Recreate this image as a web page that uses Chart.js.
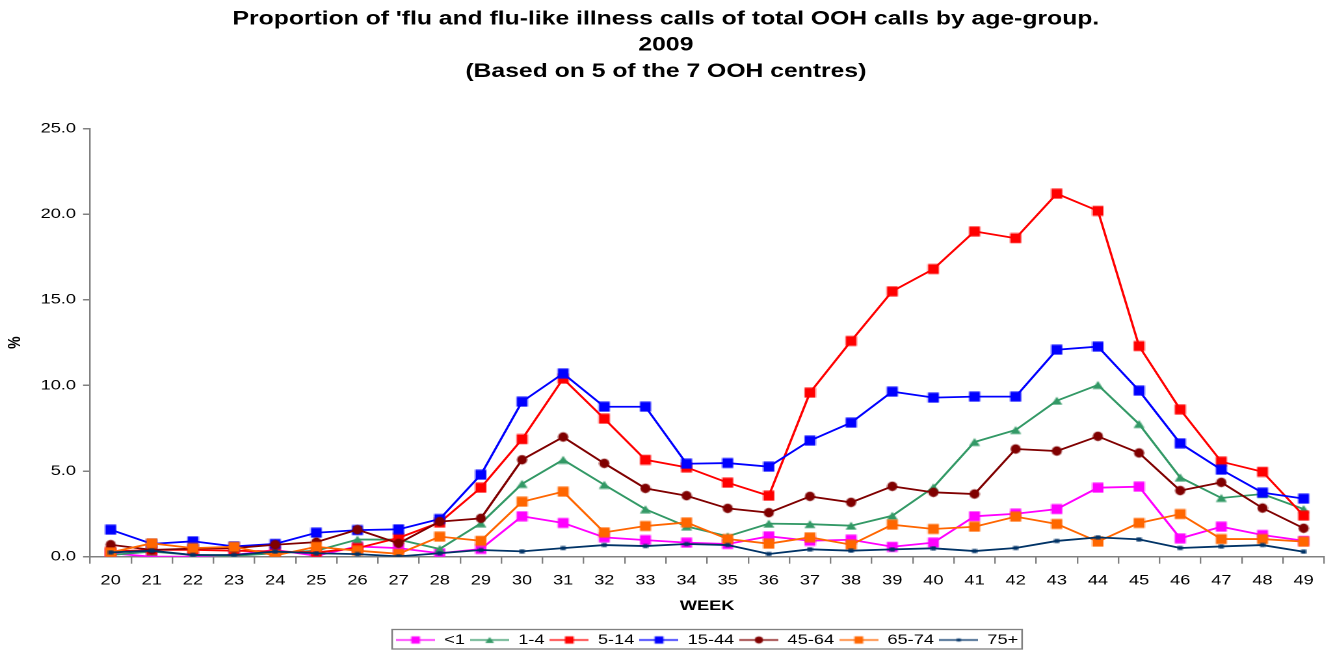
<!DOCTYPE html>
<html>
<head>
<meta charset="utf-8">
<script src="https://cdn.jsdelivr.net/npm/chart.js@4/dist/chart.umd.min.js"></script>
<style>
  html, body { margin: 0; padding: 0; background: #fff; overflow: hidden; }
  /* the original picture is stretched sideways, so draw narrow and widen it */
  #wrap { width: 1025px; height: 650px; position: relative; transform: scaleX(1.3005); transform-origin: 0 0; }
</style>
</head>
<body>
<div id="wrap"><canvas id="c"></canvas></div>
<script>
const weeks = ['20', '21', '22', '23', '24', '25', '26', '27', '28', '29',
  '30', '31', '32', '33', '34', '35', '36', '37', '38', '39',
  '40', '41', '42', '43', '44', '45', '46', '47', '48', '49'];

const under1 = [0.2, 0.0, 0.0, 0.1, 0.4, 0.05, 0.6, 0.5, 0.2, 0.45,
  2.36, 1.97, 1.13, 0.97, 0.82, 0.74, 1.19, 0.93, 0.99, 0.58,
  0.82, 2.36, 2.51, 2.78, 4.03, 4.09, 1.07, 1.75, 1.27, 0.93];
const age1to4 = [0.1, 0.3, 0.1, 0.05, 0.2, 0.35, 1.0, 1.0, 0.45, 1.95,
  4.25, 5.66, 4.2, 2.77, 1.77, 1.19, 1.93, 1.9, 1.81, 2.39,
  4.05, 6.7, 7.4, 9.11, 10.03, 7.75, 4.63, 3.43, 3.66, 2.78];
const age5to14 = [0.3, 0.4, 0.4, 0.35, 0.3, 0.25, 0.5, 1.1, 2.0, 4.03,
  6.86, 10.4, 8.06, 5.66, 5.22, 4.32, 3.56, 9.58, 12.6, 15.5,
  16.8, 19.0, 18.6, 21.2, 20.2, 12.3, 8.6, 5.55, 4.96, 2.4];
const age15to44 = [1.58, 0.75, 0.9, 0.6, 0.75, 1.4, 1.55, 1.6, 2.2, 4.79,
  9.05, 10.7, 8.76, 8.76, 5.43, 5.47, 5.26, 6.78, 7.83, 9.64,
  9.29, 9.35, 9.35, 12.09, 12.27, 9.7, 6.62, 5.08, 3.74, 3.39];
const age45to64 = [0.7, 0.4, 0.47, 0.5, 0.7, 0.85, 1.58, 0.78, 2.05, 2.24,
  5.66, 6.99, 5.45, 3.99, 3.56, 2.82, 2.57, 3.52, 3.17, 4.11,
  3.76, 3.66, 6.29, 6.17, 7.03, 6.06, 3.86, 4.34, 2.84, 1.66];
const age65to74 = [0.25, 0.78, 0.5, 0.58, 0.07, 0.58, 0.35, 0.17, 1.17, 0.93,
  3.21, 3.8, 1.42, 1.79, 2.0, 1.03, 0.76, 1.13, 0.7, 1.87,
  1.62, 1.75, 2.34, 1.91, 0.88, 1.97, 2.49, 1.03, 1.03, 0.88];
const age75plus = [0.25, 0.35, 0.1, 0.1, 0.3, 0.2, 0.15, 0.02, 0.2, 0.39,
  0.31, 0.5, 0.68, 0.62, 0.74, 0.68, 0.16, 0.43, 0.35, 0.43,
  0.49, 0.33, 0.51, 0.92, 1.13, 1.01, 0.51, 0.6, 0.68, 0.29];

const seriesNames = ['<1', '1-4', '5-14', '15-44', '45-64', '65-74', '75+'];
const yTicks = [0, 5, 10, 15, 20, 25];

const font = "'Liberation Sans', Arial, sans-serif";

// marker sizes are given before the sideways stretch
const styles = [
  { color: '#FF00FF', shape: 'square', w: 8.5, h: 10 },
  { color: '#339966', shape: 'triangle', w: 8.5, h: 8 },
  { color: '#FF0000', shape: 'square', w: 8.5, h: 10 },
  { color: '#0000FF', shape: 'square', w: 8.5, h: 10 },
  { color: '#800000', shape: 'circle', w: 7.8, h: 9.4 },
  { color: '#FF6600', shape: 'square', w: 8.5, h: 10 },
  { color: '#003366', shape: 'square', w: 4, h: 4 }
];

const values = [under1, age1to4, age5to14, age15to44, age45to64, age65to74, age75plus];

function drawShape(ctx, shape, cx, cy, w, h) {
  ctx.beginPath();
  if (shape === 'square') {
    ctx.rect(cx - w / 2, cy - h / 2, w, h);
  } else if (shape === 'triangle') {
    ctx.moveTo(cx, cy - h / 2);
    ctx.lineTo(cx + w / 2, cy + h / 2);
    ctx.lineTo(cx - w / 2, cy + h / 2);
    ctx.closePath();
  } else {
    ctx.ellipse(cx, cy, w / 2, h / 2, 0, 0, Math.PI * 2);
  }
  ctx.fill();
}

function makeMarker(st) {
  const cv = document.createElement('canvas');
  cv.width = Math.ceil(st.w) + 1;
  cv.height = Math.ceil(st.h) + 1;
  const ctx = cv.getContext('2d');
  ctx.fillStyle = st.color;
  drawShape(ctx, st.shape, cv.width / 2, cv.height / 2, st.w, st.h);
  return cv;
}

// legend swatch: line with a smaller marker in the middle
function makeSwatch(st) {
  const cv = document.createElement('canvas');
  cv.width = 30;
  cv.height = 14;
  const ctx = cv.getContext('2d');
  ctx.strokeStyle = st.color;
  ctx.fillStyle = st.color;
  ctx.lineWidth = 1.4;
  ctx.beginPath();
  ctx.moveTo(0, 7);
  ctx.lineTo(30, 7);
  ctx.stroke();
  drawShape(ctx, st.shape, 15, 7, st.w * 0.8, st.h * 0.72);
  return cv;
}

const datasets = values.map(function (v, i) {
  return {
    label: seriesNames[i],
    data: v,
    borderColor: styles[i].color,
    backgroundColor: styles[i].color,
    borderWidth: 1.8,
    pointStyle: makeMarker(styles[i]),
    pointRadius: 5,
    pointHoverRadius: 5,
    tension: 0,
    order: values.length - i
  };
});

const legendBorder = {
  id: 'legendBorder',
  afterDraw(chart) {
    const lg = chart.legend;
    if (!lg || !lg.legendHitBoxes.length) return;
    const boxes = lg.legendHitBoxes;
    const last = boxes[boxes.length - 1];
    const left = boxes[0].left - 3;
    const right = last.left + last.width + 3;
    const top = boxes[0].top - 3.5;
    const ctx = chart.ctx;
    ctx.save();
    ctx.strokeStyle = '#808080';
    ctx.lineWidth = 1.3;
    ctx.strokeRect(left, top, right - left, 19.5);
    ctx.restore();
  }
};

new Chart(document.getElementById('c'), {
  type: 'line',
  data: { labels: weeks, datasets: datasets },
  options: {
    responsive: true,
    maintainAspectRatio: false,
    animation: false,
    devicePixelRatio: 2,
    layout: { padding: { left: 3, right: 4, top: 0, bottom: -7 } },
    plugins: {
      title: {
        display: true,
        text: ["Proportion of 'flu and flu-like illness calls of total OOH calls by age-group.",
          '2009', '(Based on 5 of the 7 OOH centres)'],
        color: '#000',
        font: { family: font, size: 19, weight: 'bold', lineHeight: 1.38 },
        padding: { top: 6, bottom: 44 }
      },
      legend: {
        position: 'bottom',
        fullSize: false,
        labels: {
          color: '#000',
          font: { family: font, size: 14 },
          usePointStyle: true,
          pointStyleWidth: 30,
          padding: 4,
          generateLabels: function (chart) {
            return chart.data.datasets.map(function (ds, i) {
              return {
                text: ds.label,
                pointStyle: makeSwatch(styles[i]),
                hidden: !chart.isDatasetVisible(i),
                datasetIndex: i,
                fontColor: '#000',
                lineWidth: 0
              };
            });
          }
        }
      },
      tooltip: { enabled: true }
    },
    scales: {
      x: {
        type: 'category',
        offset: true,
        grid: {
          display: true,
          offset: true,
          drawOnChartArea: false,
          drawTicks: true,
          tickLength: 7,
          color: '#808080',
          lineWidth: 1.2
        },
        border: { display: true, color: '#808080', width: 1.5 },
        ticks: { color: '#000', font: { family: font, size: 14 }, padding: 8.6, maxRotation: 0, autoSkip: false },
        title: {
          display: true, text: 'WEEK', color: '#000',
          font: { family: font, size: 14, weight: 'bold' },
          padding: { top: 0, bottom: 14.5 }
        }
      },
      y: {
        min: 0,
        max: 25,
        afterBuildTicks: function (axis) {
          axis.ticks = yTicks.map(function (v) { return { value: v }; });
        },
        grid: {
          display: true,
          drawOnChartArea: false,
          drawTicks: true,
          tickLength: 5.4,
          color: '#808080',
          lineWidth: 1.5
        },
        border: { display: true, color: '#808080', width: 1.2 },
        ticks: {
          color: '#000',
          font: { family: font, size: 14 },
          padding: 5.4,
          callback: function (v) { return Number(v).toFixed(1); }
        },
        title: {
          display: true, text: '%', color: '#000',
          font: { family: font, size: 14, weight: 'bold' },
          padding: { top: 0, bottom: 6 }
        }
      }
    }
  },
  plugins: [legendBorder]
});
</script>
</body>
</html>
